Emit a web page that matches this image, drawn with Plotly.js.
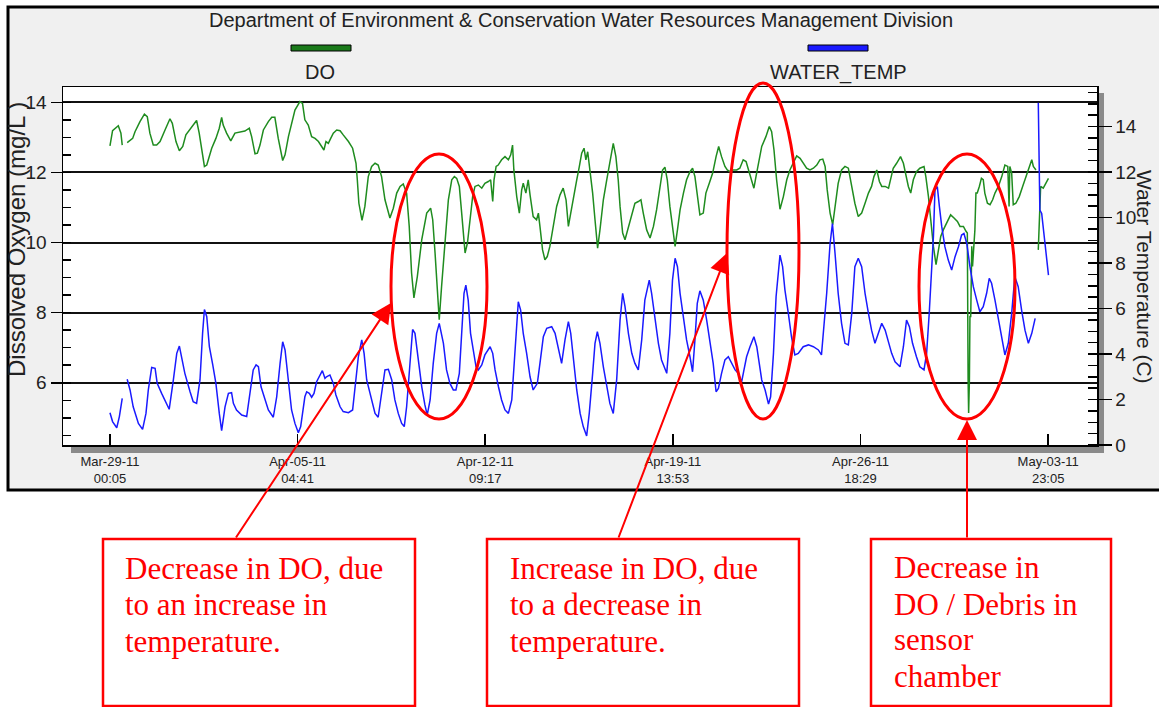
<!DOCTYPE html>
<html>
<head>
<meta charset="utf-8">
<script src="https://cdn.plot.ly/plotly-3.0.1.min.js"></script>
<style>
  html, body { margin: 0; padding: 0; background: #ffffff; }
  #chart { width: 1159px; height: 707px; }
</style>
</head>
<body>
<div id="chart"></div>
<script>
// ---------------- DATA ----------------
// Time is given as days after 2011-03-29 00:05 (first sample); null marks a logging gap.
const chartTitle = 'Department of Environment & Conservation Water Resources Management Division';
const seriesNames = ['DO', 'WATER_TEMP'];
const seriesColors = ['#1f8c1f', '#1a1aff'];
const startTime = '2011-03-29T00:05:00Z';

const tickDates = ['2011-03-29 00:05', '2011-04-05 04:41', '2011-04-12 09:17',
                   '2011-04-19 13:53', '2011-04-26 18:29', '2011-05-03 23:05'];
const tickLabels = ['Mar-29-11<br>00:05', 'Apr-05-11<br>04:41', 'Apr-12-11<br>09:17',
                    'Apr-19-11<br>13:53', 'Apr-26-11<br>18:29', 'May-03-11<br>23:05'];

// Dissolved oxygen, mg/L  [day, value]
const doReadings = [
  [0.00,12.76],[0.10,13.19],[0.32,13.33],[0.42,13.12],[0.47,12.78],[0.56,null],
  [0.66,12.85],[0.79,12.93],[0.87,12.97],[0.96,13.16],[1.15,13.45],[1.32,13.66],[1.43,13.59],[1.53,13.12],
  [1.66,12.78],[1.79,12.78],[1.92,12.88],[2.11,13.21],[2.30,13.53],[2.39,13.40],[2.53,12.88],[2.66,12.62],
  [2.79,12.74],[2.91,13.07],[3.13,13.31],[3.32,13.48],[3.42,13.12],[3.51,12.64],[3.62,12.17],[3.71,12.21],
  [3.90,12.69],[4.06,12.97],[4.19,13.26],[4.28,13.57],[4.34,13.35],[4.47,13.12],[4.63,12.90],[4.79,13.12],
  [4.98,13.16],[5.17,13.18],[5.34,13.26],[5.43,13.02],[5.56,12.53],[5.65,12.55],[5.75,12.78],[5.88,13.21],
  [6.07,13.45],[6.20,13.57],[6.32,13.57],[6.45,12.97],[6.62,12.34],[6.71,12.50],[6.84,13.02],[6.96,13.40],
  [7.09,13.78],[7.28,14.02],[7.38,13.97],[7.47,13.50],[7.60,13.35],[7.73,13.02],[7.86,12.97],[7.99,12.88],
  [8.11,12.74],[8.20,12.64],[8.28,12.88],[8.37,12.83],[8.46,12.97],[8.56,13.12],[8.69,13.21],[8.82,13.19],
  [8.94,13.07],[9.14,12.88],[9.30,12.69],[9.43,12.26],[9.48,11.79],[9.54,11.12],[9.66,10.63],[9.77,11.03],
  [9.90,11.88],[10.03,12.17],[10.16,12.26],[10.28,12.21],[10.41,11.88],[10.54,11.22],[10.73,10.70],[10.86,10.98],
  [10.99,11.41],[11.12,11.60],[11.24,11.67],[11.37,11.41],[11.47,10.46],[11.56,9.13],[11.65,8.42],[11.78,9.03],
  [11.95,10.08],[12.14,10.84],[12.29,10.98],[12.37,10.65],[12.46,9.70],[12.55,8.56],[12.62,7.80],[12.71,8.75],
  [12.84,10.08],[12.97,11.22],[13.10,11.79],[13.20,11.88],[13.29,11.83],[13.39,11.60],[13.48,10.84],[13.61,9.70],
  [13.70,9.98],[13.80,10.65],[13.90,11.31],[13.99,11.60],[14.12,11.64],[14.25,11.55],[14.37,11.69],[14.50,11.74],
  [14.59,11.79],[14.67,11.17],[14.72,11.79],[14.80,12.17],[14.88,12.21],[15.01,12.36],[15.14,12.45],[15.27,12.36],
  [15.36,12.50],[15.43,12.78],[15.48,12.07],[15.59,11.31],[15.69,10.84],[15.78,11.50],[15.84,11.69],[15.94,11.41],
  [16.03,11.79],[16.10,11.36],[16.22,10.74],[16.35,10.65],[16.42,10.84],[16.48,10.46],[16.58,9.79],[16.67,9.51],
  [16.76,9.60],[16.86,9.89],[16.99,10.46],[17.12,11.03],[17.25,11.36],[17.37,11.55],[17.48,11.22],[17.57,10.46],
  [17.66,10.84],[17.76,11.31],[17.89,11.79],[17.99,12.17],[18.08,12.55],[18.17,12.69],[18.24,12.36],[18.31,12.59],
  [18.40,12.07],[18.50,11.41],[18.59,10.65],[18.69,9.84],[18.78,10.36],[18.91,11.22],[19.04,11.79],[19.16,12.26],
  [19.29,12.83],[19.39,12.45],[19.48,11.79],[19.55,11.03],[19.65,10.27],[19.74,10.08],[19.87,10.46],[20.00,10.84],
  [20.12,11.12],[20.25,11.17],[20.35,11.22],[20.44,10.84],[20.57,10.36],[20.70,10.13],[20.83,10.46],[20.95,10.93],
  [21.08,11.60],[21.18,12.07],[21.27,12.15],[21.36,11.79],[21.46,11.03],[21.59,10.17],[21.66,9.89],[21.75,10.36],
  [21.85,10.93],[21.98,11.41],[22.10,11.79],[22.23,12.02],[22.33,12.12],[22.42,11.88],[22.51,11.31],[22.61,10.79],
  [22.74,10.84],[22.84,11.41],[22.97,11.69],[23.10,11.98],[23.23,12.45],[23.33,12.74],[23.44,12.45],[23.57,12.17],
  [23.66,12.07],[23.76,12.02],[23.89,12.07],[24.02,12.07],[24.14,12.12],[24.27,12.36],[24.38,12.31],[24.46,12.12],
  [24.59,11.79],[24.68,11.55],[24.76,11.88],[24.85,12.26],[24.98,12.74],[25.14,13.02],[25.27,13.31],[25.36,13.16],
  [25.45,12.64],[25.55,11.79],[25.68,10.95],[25.81,11.31],[25.94,11.79],[26.06,12.07],[26.19,12.26],[26.32,12.47],
  [26.45,12.40],[26.57,12.26],[26.70,12.12],[26.83,12.07],[26.96,12.12],[27.09,12.21],[27.21,12.36],[27.32,12.38],
  [27.41,12.17],[27.49,11.50],[27.60,10.84],[27.70,10.51],[27.79,11.03],[27.91,11.69],[28.04,12.07],[28.17,12.17],
  [28.30,12.12],[28.43,11.60],[28.55,11.12],[28.68,10.74],[28.81,10.84],[28.94,11.12],[29.07,11.41],[29.19,11.60],
  [29.28,11.88],[29.39,12.07],[29.49,11.74],[29.58,11.60],[29.71,11.60],[29.84,11.55],[29.92,11.79],[30.02,12.12],
  [30.15,12.26],[30.30,12.45],[30.41,12.26],[30.51,11.88],[30.60,11.60],[30.69,11.41],[30.79,11.79],[30.91,12.02],
  [31.04,12.12],[31.20,12.17],[31.27,11.88],[31.37,11.31],[31.45,10.65],[31.56,9.89],[31.66,9.37],[31.75,9.79],
  [31.84,10.17],[31.94,10.36],[32.07,10.55],[32.22,10.79],[32.35,10.70],[32.48,10.60],[32.58,10.46],[32.71,10.46],
  [32.81,10.32],[32.86,10.27],[32.89,6.09],[32.91,5.14],[32.94,6.09],[32.96,7.89],[32.99,7.89],[33.03,9.89],
  [33.06,9.32],[33.11,9.98],[33.15,10.36],[33.19,11.41],[33.24,11.41],[33.32,11.60],[33.40,11.83],[33.47,11.79],
  [33.53,11.41],[33.63,11.12],[33.73,11.08],[33.83,11.22],[33.92,11.41],[34.05,11.60],[34.18,11.88],[34.30,12.21],
  [34.41,12.17],[34.46,11.03],[34.49,12.17],[34.56,11.98],[34.62,11.08],[34.72,11.12],[34.85,11.31],[34.98,11.60],
  [35.11,11.88],[35.24,12.17],[35.33,12.36],[35.39,12.17],[35.49,12.07],[35.54,null],
  [35.58,9.79],[35.62,10.74],[35.67,11.60],[35.77,11.55],[35.88,11.69],[35.97,11.83]
];

// Water temperature, deg C  [day, value]
const tempReadings = [
  [0.00,1.42],[0.10,1.03],[0.26,0.76],[0.36,1.25],[0.47,2.05],[0.56,null],
  [0.66,2.89],[0.77,2.42],[0.89,1.68],[1.09,0.95],[1.25,0.69],[1.38,1.39],[1.47,2.42],[1.60,3.41],
  [1.73,3.37],[1.81,2.71],[1.98,2.27],[2.15,1.83],[2.27,1.57],[2.43,2.86],[2.56,4.03],[2.66,4.35],
  [2.75,3.88],[2.87,3.15],[3.07,2.34],[3.19,1.90],[3.32,1.83],[3.45,2.86],[3.55,4.91],[3.62,5.96],
  [3.71,5.64],[3.81,4.32],[3.94,3.52],[4.06,2.71],[4.19,1.39],[4.28,0.63],[4.41,1.68],[4.54,2.27],
  [4.66,2.30],[4.73,1.83],[4.85,1.54],[5.05,1.32],[5.24,1.25],[5.37,2.42],[5.49,3.30],[5.60,3.52],
  [5.69,3.44],[5.79,2.56],[5.94,1.98],[6.07,1.54],[6.26,1.22],[6.39,2.12],[6.52,3.59],[6.62,4.54],
  [6.71,4.18],[6.84,2.86],[6.96,1.54],[7.09,0.95],[7.22,0.54],[7.31,0.81],[7.47,2.12],[7.54,2.34],
  [7.64,2.27],[7.73,2.10],[7.82,2.27],[7.92,2.78],[8.05,3.08],[8.14,3.27],[8.24,2.93],[8.30,3.00],
  [8.43,3.08],[8.56,2.71],[8.66,2.20],[8.82,1.68],[8.94,1.47],[9.14,1.42],[9.30,1.54],[9.39,2.42],
  [9.52,3.88],[9.65,4.62],[9.74,4.03],[9.84,2.86],[10.03,1.98],[10.16,1.39],[10.28,1.22],[10.41,2.27],
  [10.54,3.30],[10.67,3.33],[10.80,2.86],[10.92,1.98],[11.05,1.39],[11.18,0.95],[11.28,0.81],[11.37,1.68],
  [11.47,3.15],[11.60,5.08],[11.69,4.91],[11.82,3.74],[11.95,2.56],[12.07,1.76],[12.16,1.32],[12.27,1.98],
  [12.39,3.59],[12.52,4.91],[12.62,5.35],[12.78,4.47],[12.90,3.30],[13.03,2.71],[13.16,2.42],[13.26,2.42],
  [13.39,3.15],[13.48,4.91],[13.57,6.67],[13.64,7.03],[13.73,6.37],[13.82,4.91],[13.93,4.03],[14.03,3.44],
  [14.12,3.30],[14.25,3.52],[14.37,3.96],[14.57,4.32],[14.67,4.03],[14.76,3.30],[14.89,2.56],[15.01,1.98],
  [15.14,1.54],[15.27,1.39],[15.40,1.98],[15.52,4.03],[15.65,6.30],[15.74,5.93],[15.84,4.91],[15.97,4.03],
  [16.10,3.00],[16.22,2.42],[16.38,2.71],[16.48,3.59],[16.61,4.76],[16.74,5.13],[16.93,5.20],[17.06,4.91],
  [17.19,4.18],[17.31,3.59],[17.44,4.62],[17.57,5.42],[17.66,4.91],[17.76,3.74],[17.89,2.42],[18.02,1.39],
  [18.14,0.81],[18.27,0.40],[18.37,1.39],[18.50,3.15],[18.59,4.47],[18.68,4.98],[18.78,4.47],[18.91,3.44],
  [19.04,2.56],[19.16,1.83],[19.29,1.39],[19.42,2.86],[19.55,5.49],[19.65,6.67],[19.74,6.08],[19.87,4.91],
  [20.00,4.03],[20.12,3.59],[20.25,3.30],[20.38,4.62],[20.50,6.37],[20.67,7.25],[20.76,6.67],[20.89,5.49],
  [21.02,4.47],[21.14,3.74],[21.34,3.15],[21.46,4.91],[21.56,7.25],[21.66,8.21],[21.75,7.84],[21.85,6.67],
  [21.98,5.49],[22.10,4.62],[22.23,3.88],[22.33,3.22],[22.42,4.62],[22.51,6.23],[22.61,6.78],[22.74,6.37],
  [22.87,5.49],[22.99,4.62],[23.12,3.59],[23.23,2.34],[23.32,2.49],[23.44,3.15],[23.57,3.74],[23.70,3.88],
  [23.83,3.59],[23.96,3.30],[24.08,3.15],[24.21,2.78],[24.30,3.30],[24.40,3.88],[24.53,4.32],[24.68,4.76],
  [24.79,4.32],[24.89,3.59],[24.98,2.86],[25.11,2.42],[25.24,1.80],[25.32,2.12],[25.43,4.03],[25.53,6.52],
  [25.68,8.35],[25.78,7.84],[25.87,6.81],[26.00,5.79],[26.12,4.76],[26.25,3.96],[26.38,4.03],[26.57,4.32],
  [26.77,4.40],[26.96,4.32],[27.15,4.18],[27.27,3.96],[27.34,4.91],[27.47,6.67],[27.60,8.86],[27.69,9.74],
  [27.79,8.42],[27.91,6.67],[28.04,5.35],[28.17,4.47],[28.30,4.40],[28.43,5.79],[28.55,7.84],[28.68,8.21],
  [28.81,7.84],[28.94,6.67],[29.07,5.79],[29.19,5.05],[29.32,4.47],[29.45,4.91],[29.58,5.35],[29.71,5.05],
  [29.84,4.47],[29.96,4.03],[30.09,3.66],[30.28,3.44],[30.41,4.32],[30.53,5.49],[30.64,5.20],[30.76,4.47],
  [30.91,3.88],[31.04,3.44],[31.20,3.30],[31.30,4.03],[31.40,5.79],[31.49,7.84],[31.56,9.16],[31.62,11.21],
  [31.71,11.36],[31.79,10.48],[31.88,9.60],[32.00,8.72],[32.13,8.13],[32.26,7.69],[32.39,8.28],[32.52,8.72],
  [32.64,9.23],[32.73,9.30],[32.84,8.86],[32.96,7.84],[33.09,6.96],[33.22,6.37],[33.34,5.86],[33.47,6.08],
  [33.60,6.67],[33.70,7.33],[33.79,7.11],[33.92,6.37],[34.05,5.49],[34.18,4.62],[34.30,3.96],[34.43,4.47],
  [34.56,5.79],[34.68,7.40],[34.81,6.96],[34.94,5.93],[35.07,5.05],[35.20,4.47],[35.33,4.91],[35.46,5.57],
  [35.52,null],
  [35.58,15.05],[35.61,12.53],[35.64,10.33],[35.71,10.18],[35.80,9.16],[35.88,8.28],[35.97,7.47]
];

// Call-out texts (one entry per printed line)
const calloutLines = [
  ['Decrease in DO, due', 'to an increase in', 'temperature.'],
  ['Increase in DO, due', 'to a decrease in', 'temperature.'],
  ['Decrease in', 'DO / Debris in', 'sensor', 'chamber']
];

// ---------------- HELPERS ----------------
const T0 = Date.parse(startTime);
function dayToDate(d) {
  return new Date(T0 + d * 86400000).toISOString().replace('T', ' ').slice(0, 19);
}
const doX = doReadings.map(p => dayToDate(p[0]));
const doY = doReadings.map(p => p[1]);
const tempX = tempReadings.map(p => dayToDate(p[0]));
const tempY = tempReadings.map(p => p[1]);

// pixel -> paper helpers for decorations (plot area = x 63..1097, y 87..445)
const PL = 63, PR = 1097, PT = 87, PB = 445;
const px = x => (x - PL) / (PR - PL);
const py = y => (PB - y) / (PB - PT);

const sansFont = 'Liberation Sans, Arial, Helvetica, sans-serif';
const serifFont = 'Liberation Serif, Times New Roman, serif';
const RED = '#ff0000';

// ---------------- TRACES ----------------
const traces = [
  { x: doX, y: doY, name: seriesNames[0], type: 'scatter', mode: 'lines',
    line: { color: seriesColors[0], width: 1.5 }, yaxis: 'y', connectgaps: false, showlegend: false },
  { x: tempX, y: tempY, name: seriesNames[1], type: 'scatter', mode: 'lines',
    line: { color: seriesColors[1], width: 1.5 }, yaxis: 'y2', connectgaps: false, showlegend: false }
];

// ---------------- SHAPES ----------------
const rect = (x0, y0, x1, y1, extra) => Object.assign({
  type: 'rect', xref: 'paper', yref: 'paper',
  x0: px(x0), x1: px(x1), y0: py(y1), y1: py(y0)
}, extra);
const ellipse = (x0, y0, x1, y1) => ({
  type: 'circle', xref: 'paper', yref: 'paper', layer: 'above',
  x0: px(x0), x1: px(x1), y0: py(y1), y1: py(y0),
  line: { color: RED, width: 3 }
});

const shapes = [
  // grey chart panel with black frame
  rect(8, 7, 1163, 490, { layer: 'below', fillcolor: '#f0f0f0', line: { color: '#000', width: 3 } }),
  // drop shadow of the plot area
  rect(71, 93, 1104, 453, { layer: 'below', fillcolor: '#8a8a8a', line: { width: 0 } }),
  // white plot area
  rect(PL, PT, PR, PB, { layer: 'below', fillcolor: '#ffffff', line: { width: 0 } }),
  // legend swatches
  rect(291, 45, 351, 51, { layer: 'above', fillcolor: '#1a7a1a', line: { color: '#000', width: 1 } }),
  rect(808, 45, 868, 51, { layer: 'above', fillcolor: '#1a1aff', line: { color: '#000', width: 1 } }),
  // red ellipses
  ellipse(391, 154, 487, 419),
  ellipse(727, 83, 799, 419),
  ellipse(919, 154, 1015, 419),
  // call-out boxes
  rect(103, 539, 415, 706, { layer: 'above', line: { color: RED, width: 2.5 } }),
  rect(487, 539, 799, 706, { layer: 'above', line: { color: RED, width: 2.5 } }),
  rect(871, 539, 1111, 706, { layer: 'above', line: { color: RED, width: 2.5 } })
];

// ---------------- ANNOTATIONS ----------------
const annotations = [
  { text: chartTitle, xref: 'paper', yref: 'paper', x: px(581), y: py(20), showarrow: false,
    xanchor: 'center', yanchor: 'middle', font: { family: sansFont, size: 20, color: '#222' } },
  { text: seriesNames[0], xref: 'paper', yref: 'paper', x: px(320), y: py(72), showarrow: false,
    xanchor: 'center', yanchor: 'middle', font: { family: sansFont, size: 20, color: '#222' } },
  { text: seriesNames[1], xref: 'paper', yref: 'paper', x: px(838), y: py(72), showarrow: false,
    xanchor: 'center', yanchor: 'middle', font: { family: sansFont, size: 20, color: '#222' } },
  { text: 'Dissolved Oxygen (mg/L )', xref: 'paper', yref: 'paper', x: px(16), y: py(240), showarrow: false,
    textangle: -90, xanchor: 'center', yanchor: 'middle', font: { family: sansFont, size: 24, color: '#222' } },
  { text: 'Water Temperature (C)', xref: 'paper', yref: 'paper', x: px(1145), y: py(277), showarrow: false,
    textangle: 90, xanchor: 'center', yanchor: 'middle', borderpad: 0,
    font: { family: sansFont, size: 21, color: '#222' } },
  // arrows (tip at ellipse, tail at call-out box)
  { text: '', xref: 'paper', yref: 'paper', x: px(391), y: py(303), ax: -156, ay: 236, axref: 'pixel', ayref: 'pixel',
    showarrow: true, arrowhead: 2, arrowsize: 2, arrowwidth: 2, arrowcolor: RED },
  { text: '', xref: 'paper', yref: 'paper', x: px(727), y: py(253), ax: -109, ay: 286, axref: 'pixel', ayref: 'pixel',
    showarrow: true, arrowhead: 2, arrowsize: 2, arrowwidth: 2, arrowcolor: RED },
  { text: '', xref: 'paper', yref: 'paper', x: px(967), y: py(420), ax: 0, ay: 119, axref: 'pixel', ayref: 'pixel',
    showarrow: true, arrowhead: 2, arrowsize: 2, arrowwidth: 2, arrowcolor: RED }
];

const boxTextX = [123, 508, 892];
const boxBaselines = [[579, 615, 652], [579, 615, 652], [578, 615, 650, 687]];
calloutLines.forEach((lines, i) => {
  lines.forEach((t, j) => {
    annotations.push({ text: t, xref: 'paper', yref: 'paper', x: px(boxTextX[i]), y: py(boxBaselines[i][j] - 10.5),
      showarrow: false, xanchor: 'left', yanchor: 'middle',
      font: { family: serifFont, size: 31, color: RED } });
  });
});

// ---------------- LAYOUT ----------------
const layout = {
  width: 1159, height: 707,
  margin: { l: PL, r: 1159 - PR, t: PT, b: 707 - PB, pad: 0 },
  paper_bgcolor: '#ffffff',
  plot_bgcolor: 'rgba(0,0,0,0)',
  showlegend: false,
  font: { family: sansFont, color: '#222' },
  xaxis: {
    type: 'date', range: [dayToDate(-1.80), dayToDate(37.83)],
    tickmode: 'array', tickvals: tickDates, ticktext: tickLabels,
    ticks: 'inside', ticklen: 11, tickwidth: 1.5, tickcolor: '#000',
    showline: true, linecolor: '#000', linewidth: 1.5, mirror: true,
    showgrid: false, zeroline: false, ticklabelstandoff: 4,
    tickfont: { family: sansFont, size: 13, color: '#222' }
  },
  yaxis: {
    range: [4.225, 14.436], tick0: 0, dtick: 2,
    ticks: 'outside', ticklen: 11, tickwidth: 1.5, tickcolor: '#000',
    showgrid: true, gridcolor: '#111', gridwidth: 2,
    showline: true, linecolor: '#000', linewidth: 1.5, zeroline: false,
    tickfont: { family: sansFont, size: 19, color: '#222' },
    minor: { ticks: 'inside', ticklen: 8, tick0: 0, dtick: 0.5, tickwidth: 1.5, tickcolor: '#000', showgrid: false }
  },
  yaxis2: {
    overlaying: 'y', side: 'right', range: [0, 15.74], tick0: 0, dtick: 2,
    ticks: 'outside', ticklen: 13, tickwidth: 1.5, tickcolor: '#000',
    showgrid: false, showline: true, linecolor: '#000', linewidth: 1.5, zeroline: false,
    tickfont: { family: sansFont, size: 19, color: '#222' },
    minor: { ticks: 'inside', ticklen: 9, tick0: 0, dtick: 0.5, tickwidth: 1.5, tickcolor: '#000', showgrid: false }
  },
  shapes: shapes,
  annotations: annotations
};

Plotly.newPlot('chart', traces, layout, { displayModeBar: false, staticPlot: true });
</script>
</body>
</html>
